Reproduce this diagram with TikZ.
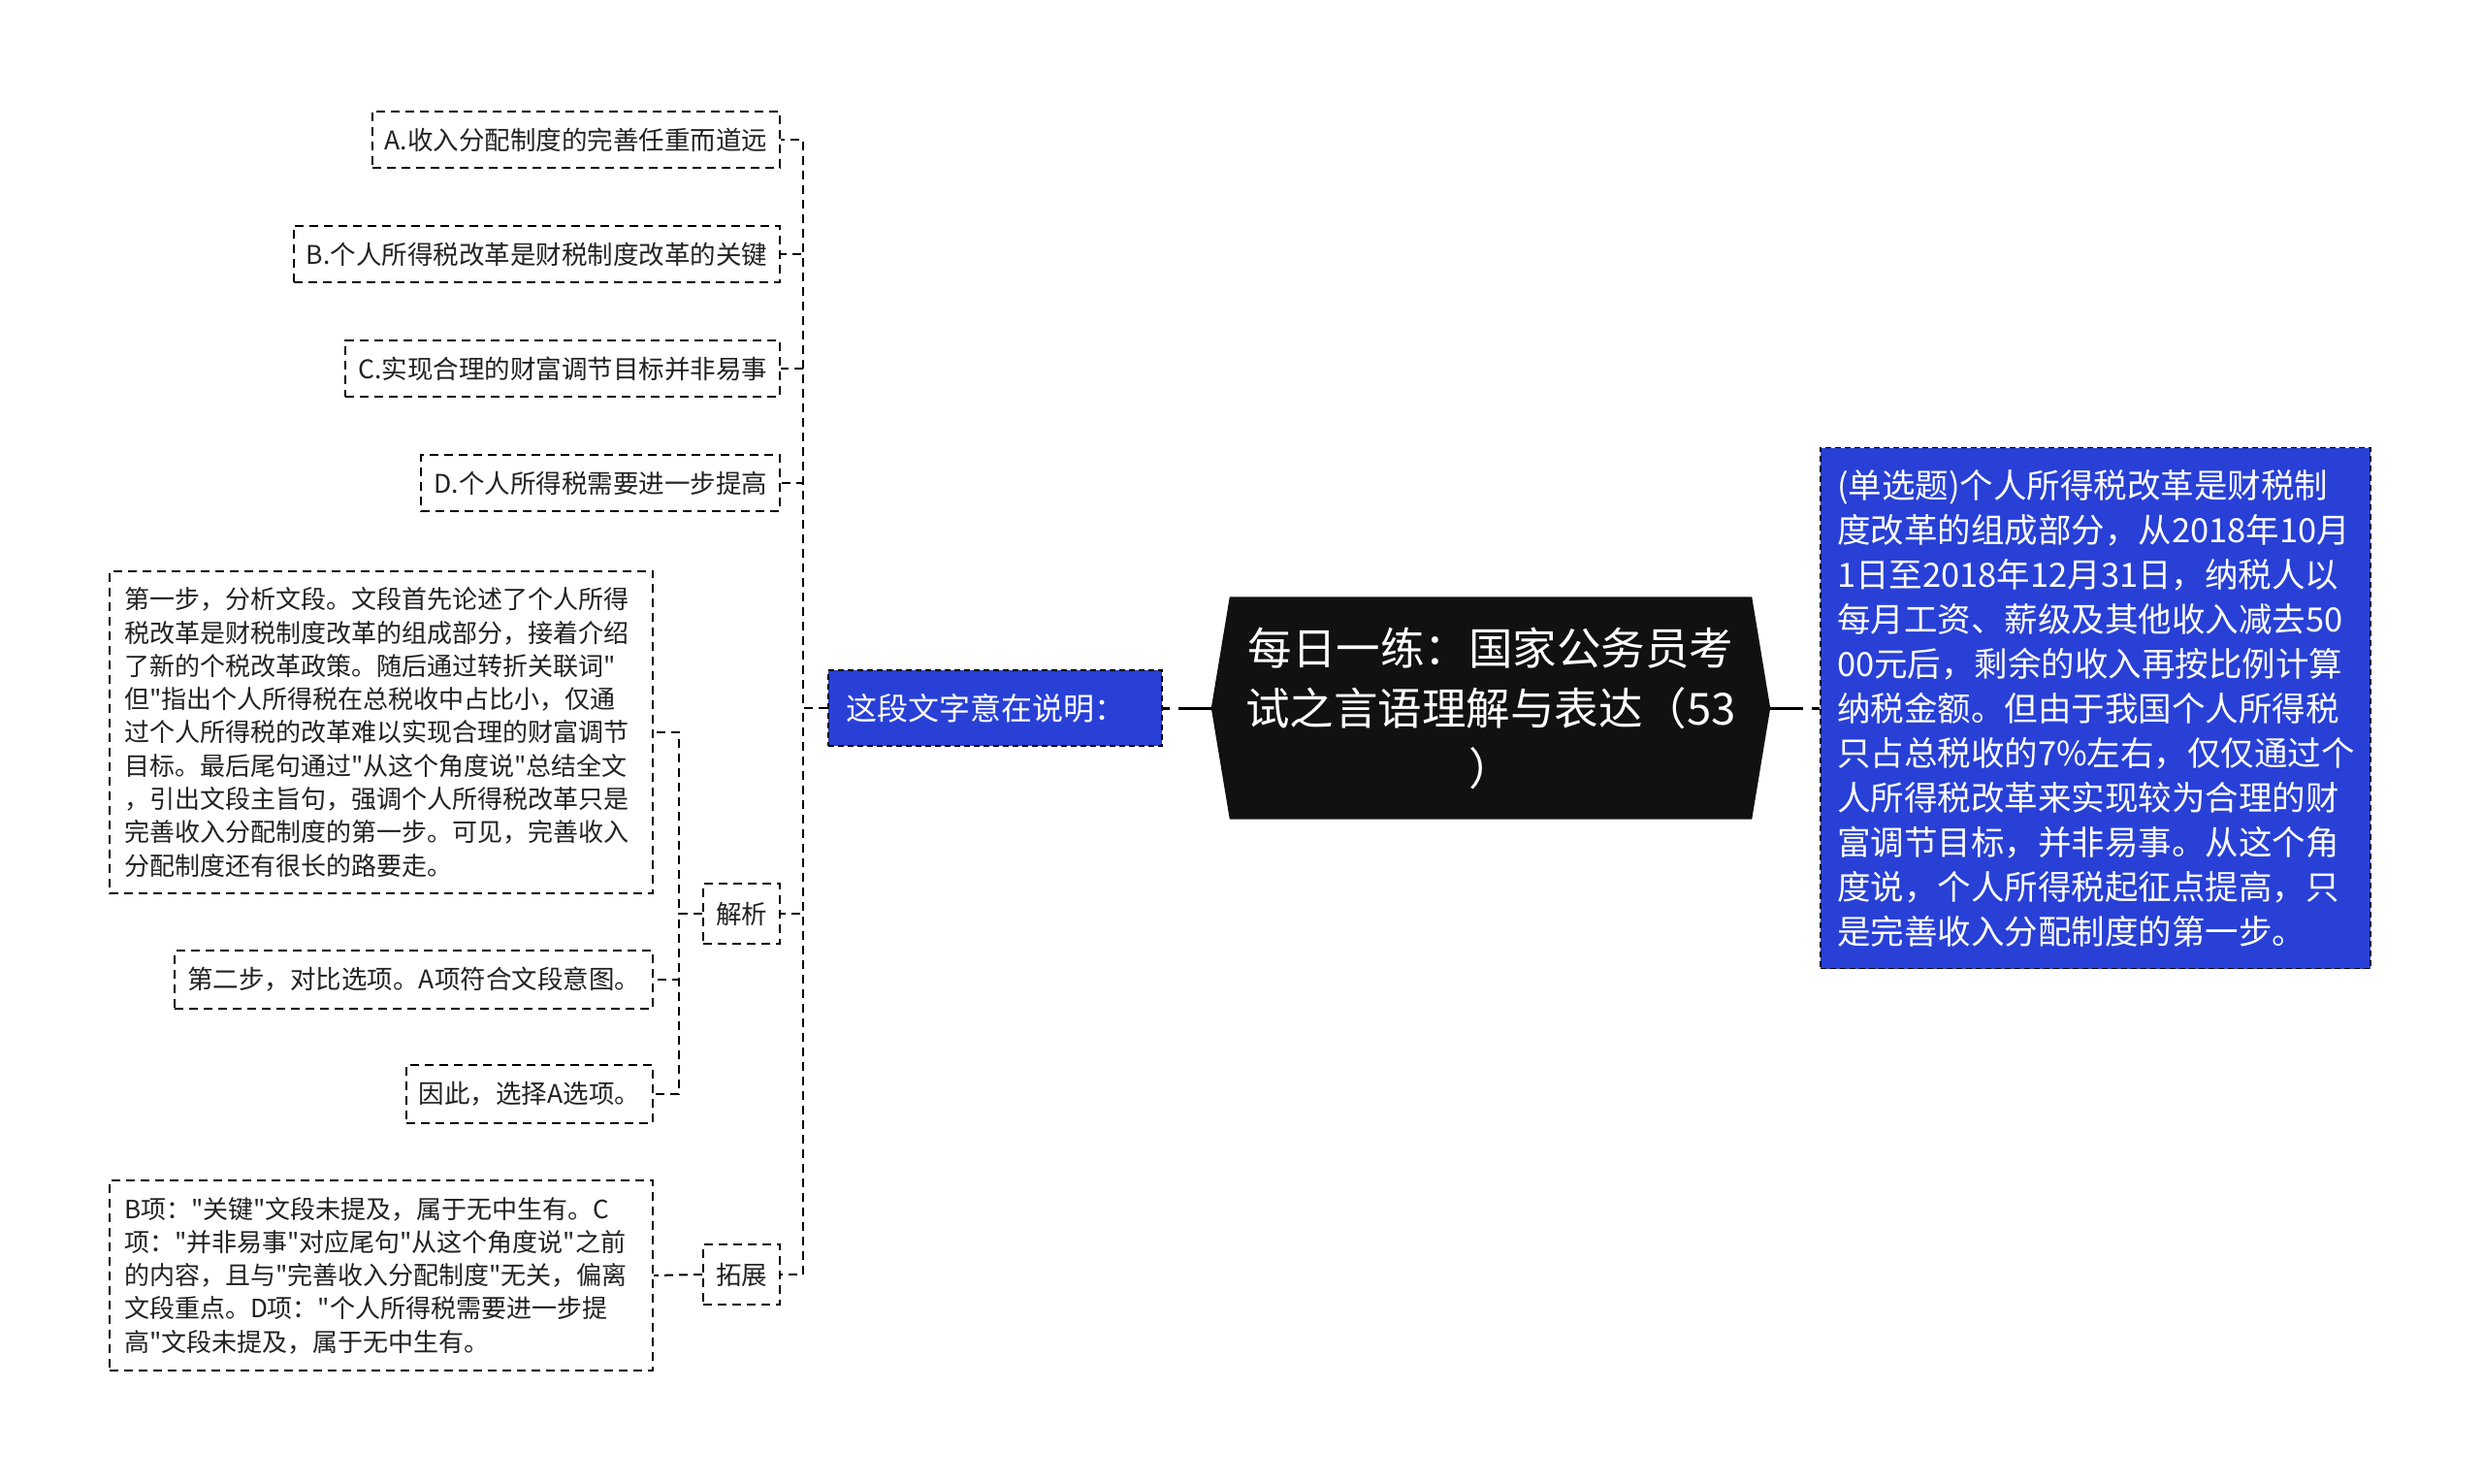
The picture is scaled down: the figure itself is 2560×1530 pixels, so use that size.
\documentclass[tikz,border=0pt]{standalone}
\usepackage{fontspec}
\setmainfont{Noto Sans CJK SC}[Ligatures=TeXOff]
\usetikzlibrary{backgrounds}
\definecolor{qblue}{RGB}{40,64,214}
\definecolor{cdark}{RGB}{17,17,17}
\definecolor{txt}{RGB}{34,34,34}
\begin{document}
\begin{tikzpicture}[x=1pt,y=-1pt,
  conn/.style={line width=2pt, dash pattern=on 9pt off 6pt, draw=black},
  mainconn/.style={line width=3pt, dash pattern=on 34pt off 9pt, draw=black},
  optbox/.style={draw=black, line width=2pt, dash pattern=on 9pt off 6pt, text=txt, font=\fontsize{26.5}{34.3}\selectfont, inner xsep=13pt, inner ysep=0pt, minimum height=58pt, anchor=east},
  txtbox/.style={draw=black, line width=2pt, dash pattern=on 9pt off 6pt, text=txt, font=\fontsize{26}{34.3}\selectfont, inner xsep=15pt, inner ysep=17pt, align=left, text width=530pt, anchor=east},
  bluebox/.style={draw=black, fill=qblue, line width=1.5pt, dash pattern=on 6pt off 4pt, text=white, align=left}
]
\useasboundingbox (0,0) rectangle (2560,1530);

% central node
\node[text=white, font=\fontsize{45.5}{62}\selectfont, align=center, minimum width=576pt, minimum height=229pt, inner sep=0pt] (c) at (1537,730) {每日一练：国家公务员考\\试之言语理解与表达（53\\）};
\begin{scope}[on background layer]
\fill[white] (0,0) rectangle (2560,1530);
\fill[cdark] ([xshift=19pt]c.north west) -- ([xshift=-19pt]c.north east) -- (c.east) -- ([xshift=-19pt]c.south east) -- ([xshift=19pt]c.south west) -- (c.west) -- cycle;
\end{scope}

% right question node
\node[bluebox, font=\fontsize{34.5}{46}\selectfont, text width=533pt, inner xsep=17pt, inner ysep=12pt, minimum height=537pt] (r) at (2160.5,730) {(单选题)个人所得税改革是财税制\\度改革的组成部分，从2018年10月\\1日至2018年12月31日，纳税人以\\每月工资、薪级及其他收入减去50\\00元后，剩余的收入再按比例计算\\纳税金额。但由于我国个人所得税\\只占总税收的7\%左右，仅仅通过个\\人所得税改革来实现较为合理的财\\富调节目标，并非易事。从这个角\\度说，个人所得税起征点提高，只\\是完善收入分配制度的第一步。};

% left blue node
\node[bluebox, font=\fontsize{32}{40}\selectfont, text width=308pt, inner xsep=18pt, inner ysep=0pt, minimum height=78pt] (q) at (1026,730) {这段文字意在说明：};

% options and branches
\node[optbox] (oa) at (805,144) {A.收入分配制度的完善任重而道远};
\node[optbox] (ob) at (805,262) {B.个人所得税改革是财税制度改革的关键};
\node[optbox] (oc) at (805,380) {C.实现合理的财富调节目标并非易事};
\node[optbox] (od) at (805,498) {D.个人所得税需要进一步提高};
\node[optbox, minimum height=62pt] (jx) at (805,942) {解析};
\node[optbox, minimum height=62pt] (tz) at (805,1314) {拓展};

\node[txtbox] (s1) at (674,755) {第一步，分析文段。文段首先论述了个人所得\\税改革是财税制度改革的组成部分，接着介绍\\了新的个税改革政策。随后通过转折关联词"\\但"指出个人所得税在总税收中占比小，仅通\\过个人所得税的改革难以实现合理的财富调节\\目标。最后尾句通过"从这个角度说"总结全文\\，引出文段主旨句，强调个人所得税改革只是\\完善收入分配制度的第一步。可见，完善收入\\分配制度还有很长的路要走。};
\node[optbox, minimum height=60pt] (s2) at (674,1010) {第二步，对比选项。A项符合文段意图。};
\node[optbox, minimum height=60pt] (s3) at (674,1128) {因此，选择A选项。};
\node[txtbox] (t1) at (674,1315) {B项："关键"文段未提及，属于无中生有。C\\项："并非易事"对应尾句"从这个角度说"之前\\的内容，且与"完善收入分配制度"无关，偏离\\文段重点。D项："个人所得税需要进一步提\\高"文段未提及，属于无中生有。};

% connectors
\draw[mainconn] (c.west) -- (q.east);
\draw[mainconn] (c.east) -- (r.west);
\foreach \n in {oa,ob,oc,od,jx,tz} \draw[conn] (q.west) -- ++(-25,0) |- (\n.east);
\foreach \n in {s1,s2,s3} \draw[conn] (jx.west) -- ++(-24,0) |- (\n.east);
\draw[conn] (tz.west) -- (t1.east);
\end{tikzpicture}
\end{document}
